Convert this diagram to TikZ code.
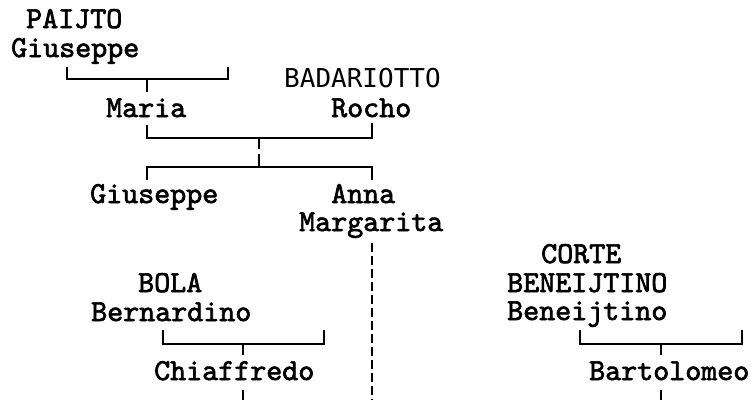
\documentclass[tikz,border=0pt]{standalone}
\usepackage{fontspec}
\newfontfamily\sansmono{DejaVu Sans Mono}
\newfontfamily\pmono{lmmono10-regular.otf}[FakeBold=2.2]
\begin{document}
\begin{tikzpicture}[x=1pt,y=-1pt,
  person/.style={anchor=base west,inner sep=0pt,font=\fontsize{30.5}{30.5}\selectfont\pmono},
  sperson/.style={anchor=base west,inner sep=0pt,font=\fontsize{26}{26}\selectfont\sansmono},
  tree/.style={line width=1.6pt},
  dash line/.style={line width=1.6pt,dash pattern=on 9pt off 4pt}]
\useasboundingbox (0,0) rectangle (751,400);
% names
\node[person] (paijto) at (26,28) {PAIJTO};
\node[person] (giuseppe1) at (11,57) {Giuseppe};
\node[person] (maria) at (106,117) {Maria};
\node[sperson] (badariotto) at (284,87) {BADARIOTTO};
\node[person] (rocho) at (331,117) {Rocho};
\node[person] (giuseppe2) at (90,203) {Giuseppe};
\node[person] (anna) at (331,203) {Anna};
\node[person] (margarita) at (299,231) {Margarita};
\node[person] (bola) at (138,292) {BOLA};
\node[person] (bernardino) at (91,321) {Bernardino};
\node[person] (chiaffredo) at (154,380) {Chiaffredo};
\node[person] (corte) at (541,263) {CORTE};
\node[person] (beneijtinoA) at (507,292) {BENEIJTINO};
\node[person] (beneijtinoB) at (507,320) {Beneijtino};
\node[person] (bartolomeo) at (589,380) {Bartolomeo};
% coordinates
\coordinate (a1) at (67,67); \coordinate (a2) at (228,67);
\coordinate (a3) at (67,79); \coordinate (a4) at (228,79);
\coordinate (am) at (147,79); \coordinate (amd) at (147,92);
\coordinate (m1) at (147,125); \coordinate (m2) at (147,138);
\coordinate (r1) at (372,123); \coordinate (r2) at (372,138);
\coordinate (t1) at (259,138); \coordinate (t2) at (259,149);
\coordinate (t3) at (259,154); \coordinate (t4) at (259,167);
\coordinate (g1) at (147,167); \coordinate (g2) at (147,180);
\coordinate (n1) at (372,167); \coordinate (n2) at (372,180);
\coordinate (d1) at (372,243); \coordinate (d2) at (372,400);
\coordinate (b1) at (163,330); \coordinate (b2) at (324,330);
\coordinate (b3) at (163,344); \coordinate (b4) at (324,344);
\coordinate (bm) at (243,344); \coordinate (bmd) at (243,355);
\coordinate (c1) at (243,390); \coordinate (c2) at (243,400);
\coordinate (k1) at (580,330); \coordinate (k2) at (742,330);
\coordinate (k3) at (580,344); \coordinate (k4) at (742,344);
\coordinate (km) at (661,344); \coordinate (kmd) at (661,355);
\coordinate (e1) at (661,390); \coordinate (e2) at (661,400);
% connectors
\draw[tree] (a1) -- (a3) -- (a4) -- (a2);
\draw[tree] (am) -- (amd);
\draw[tree] (m1) -- (m2) -- (r2) -- (r1);
\draw[tree] (t1) -- (t2);
\draw[tree] (t3) -- (t4);
\draw[tree] (g2) -- (g1) -- (n1) -- (n2);
\draw[dash line] (d1) -- (d2);
\draw[tree] (b1) -- (b3) -- (b4) -- (b2);
\draw[tree] (bm) -- (bmd);
\draw[tree] (c1) -- (c2);
\draw[tree] (k1) -- (k3) -- (k4) -- (k2);
\draw[tree] (km) -- (kmd);
\draw[tree] (e1) -- (e2);
\end{tikzpicture}
\end{document}
